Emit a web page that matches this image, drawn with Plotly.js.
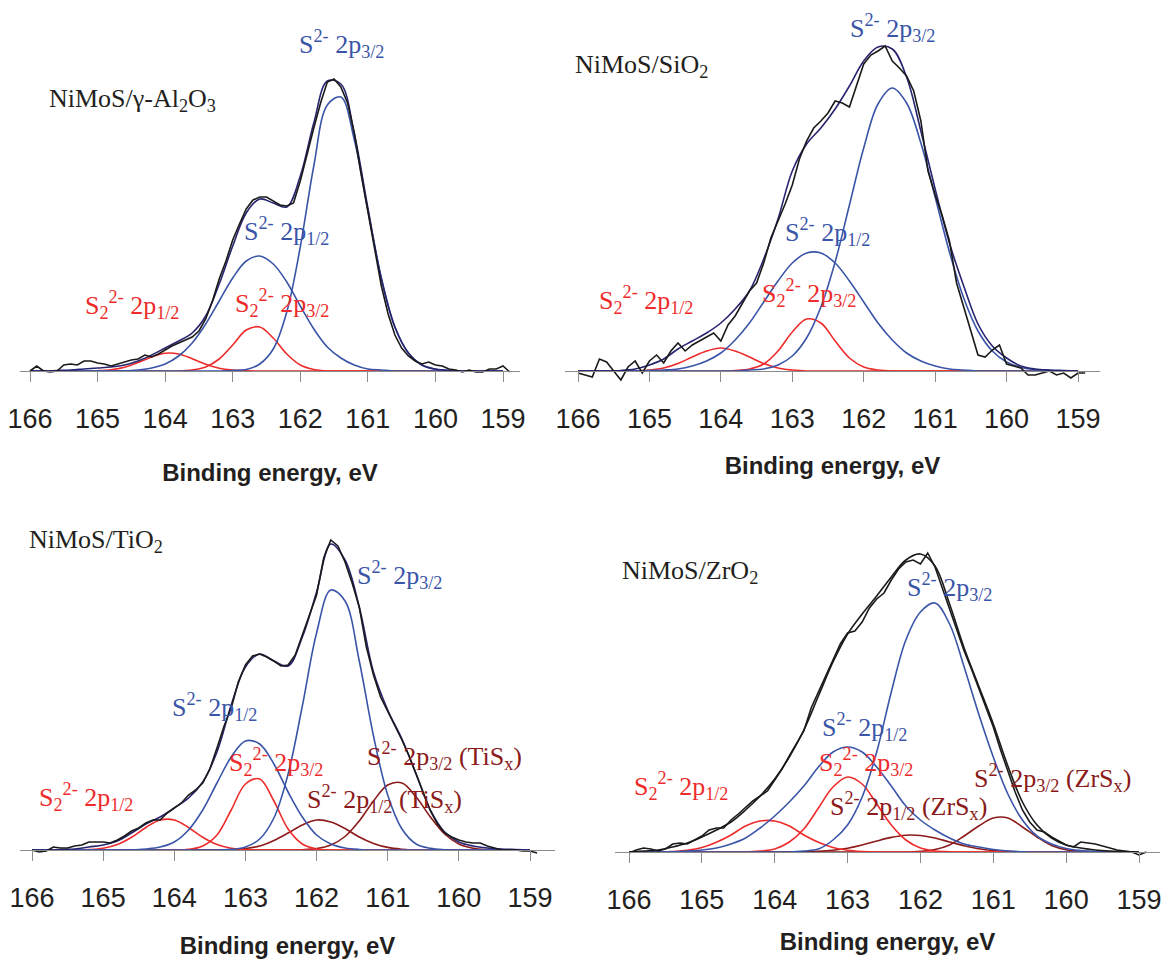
<!DOCTYPE html>
<html><head><meta charset="utf-8">
<script src="https://cdn.plot.ly/plotly-3.0.1.min.js"></script>
<style>html,body{margin:0;padding:0;background:#fff}#chart{width:1171px;height:962px}</style>
</head><body><div id="chart"></div>
<script>
// ---------- energy grids (eV) ----------
const dataEnergy = [166.0,165.9,165.8,165.7,165.6,165.5,165.4,165.3,165.2,165.1,165.0,164.9,164.8,164.7,164.6,164.5,164.4,164.3,164.2,164.1,164.0,163.9,163.8,163.7,163.6,163.5,163.4,163.3,163.2,163.1,163.0,162.9,162.8,162.7,162.6,162.5,162.4,162.3,162.2,162.1,162.0,161.9,161.8,161.7,161.6,161.5,161.4,161.3,161.2,161.1,161.0,160.9,160.8,160.7,160.6,160.5,160.4,160.3,160.2,160.1,160.0,159.9,159.8,159.7,159.6,159.5,159.4,159.3,159.2,159.1,159.0,158.9];
const fitEnergy = [166.0,165.8,165.6,165.4,165.2,165.0,164.8,164.6,164.4,164.2,164.0,163.8,163.6,163.4,163.2,163.0,162.8,162.6,162.4,162.2,162.0,161.8,161.6,161.4,161.2,161.0,160.8,160.6,160.4,160.2,160.0,159.8,159.6,159.4,159.2,159.0];
const tickValues = [166,165,164,163,162,161,160,159];
const tickLabels = ["166","165","164","163","162","161","160","159"];

// ---------- NiMoS/γ-Al2O3 ----------
const alData = [0,5,0,-1,0,6,7,6,10,10,8,7,5,7,9,11,12,16,14,17,21,25,28,31,34,40,52,70,92,110,131,147,162,171,174,174,170,166,165,168,190,218,243,268,289,292,284,268,238,197,160,124,85,57,36,23,15,10,7,9,6,5,2,1,-1,1,-1,-1,2,2,5,-1];
const alEnv = [0,0,0.5,1,2,3,4,6,10,16,23,30,38,55,87,125,158,172,168,164,195,248,290,287,237,163,92,44,18,6,2,0.5,0,0,0,0];
const alS2p32 = [0,0,0,0,0,0,0,0,0,0,0,0,0,0,0,0.5,1.5,7,22,59,124,205,266,274,231,161,93,44,18,6,1.6,0.4,0,0,0,0];
const alS2p12 = [0,0,0,0,0,0,0,0,1,3,7,15,28,47,70,93,110,115,107,89,65,42,24,13,6,2,1,0,0,0,0,0,0,0,0,0];
const alS22p32 = [0,0,0,0,0,0,0,0,0,0,0,0,1,4,12,26,41,44,33,17,6,1.5,0,0,0,0,0,0,0,0,0,0,0,0,0,0];
const alS22p12 = [0,0,0,0,0,0.3,1.3,3.8,8.4,14,17.7,17,12.3,6.8,2.8,0.9,0.2,0,0,0,0,0,0,0,0,0,0,0,0,0,0,0,0,0,0,0];

// ---------- NiMoS/SiO2 ----------
const siData = [-2,-4,-6,12,9,0,-9,4,10,-2,10,16,8,20,28,20,26,30,34,38,30,46,55,68,80,88,108,133,150,167,186,212,230,243,250,258,270,268,264,285,307,316,320,325,310,303,295,280,250,200,176,155,130,88,64,38,16,14,21,26,7,5,3,-4,-4,-2,0,-4,-2,-7,-2,-2];
const siEnv = [0,0,0,0.5,2,6,12,22,30,38,48,62,80,112,152,200,227,243,262,285,310,324,322,294,240,182,128,85,47,25,13,5,2,1,0.5,0];
const siS2p32 = [0,0,0,0,0,0,0,0,0,0,0,0,1,2,6,15,33,64,109,166,223,267,283,268,228,174,119,73,40,20,9,3.5,1.3,0.4,0,0];
const siS2p12 = [0,0,0,0,0,0.5,1,2,5,10,18,31,48,69,90,108,118,118,108,90,69,48,31,18,10,5,2,1,0,0,0,0,0,0,0,0];
const siS22p32 = [0,0,0,0,0,0,0,0,0,0,0,0.5,2,7,20,39,52,48,30,13,4,1,0,0,0,0,0,0,0,0,0,0,0,0,0,0];
const siS22p12 = [0,0,0,0,0.2,1,3,7.5,14,20,23,20,14,7.5,3,1,0,0,0,0,0,0,0,0,0,0,0,0,0,0,0,0,0,0,0,0];

// ---------- NiMoS/TiO2 ----------
const tiData = [0,-2,-1,3,2,2,4,5,8,8,8,7,10,14,19,22,27,30,30,37,42,47,55,60,67,81,102,124,142,168,185,194,196,193,189,184,185,195,215,235,255,292,310,304,288,267,243,203,175,153,139,124,110,94,75,56,39,26,17,13,10,8,7,7,4,2,0,0,0,-1,-1,-3];
const tiEnv = [0,0,0.5,1,3,5,9,17,26,33,42,52,68,98,145,183,196,189,184,213,258,306,290,243,178,140,111,76,40,18,8,4,2,1,0.5,0];
const tiS2p32 = [0,0,0,0,0,0,0,0,0,0,0,0,0,0,0.6,3,11,32,76,144,217,260,249,189,114,55,21,6,1.6,0.3,0,0,0,0,0,0];
const tiS2p12 = [0,0,0,0,0,0,0,0,1,3,8,20,40,67,93,109,106,86,58,33,15,6,2,0.5,0,0,0,0,0,0,0,0,0,0,0,0];
const tiS22p32 = [0,0,0,0,0,0,0,0,0,0,0,0.6,4,15,40,66,71,49,21,6,1,0,0,0,0,0,0,0,0,0,0,0,0,0,0,0];
const tiS22p12 = [0,0,0,0,0.4,1.7,5.4,12.7,22.5,30,30,22.5,12.7,5.4,1.7,0.4,0,0,0,0,0,0,0,0,0,0,0,0,0,0,0,0,0,0,0,0];
const tiTiSp32 = [0,0,0,0,0,0,0,0,0,0,0,0,0,0,0,0,0,0,0,0.3,1.4,5,13.5,29,49,65,67,53,33,16,6,1.8,0.4,0,0,0];
const tiTiSp12 = [0,0,0,0,0,0,0,0,0,0,0,0,0,0,0.4,1.5,4,9.6,17,25,30,28,21.5,13,6.6,2.6,0.8,0,0,0,0,0,0,0,0,0];

// ---------- NiMoS/ZrO2 ----------
const zrData = [-1,2,4,3,1,3,8,9,8,12,16,22,24,24,32,38,45,51,56,61,72,83,96,108,121,144,160,175,192,208,219,221,230,244,253,259,272,283,290,292,288,299,285,264,243,222,201,183,163,145,125,102,80,60,42,30,22,20,15,11,7,5,10,9,8,6,4,2,1,0,-3,0];
const zrEnv = [0,1,2,5,9,15,22,30,42,56,73,95,122,156,190,218,238,256,275,292,298,286,248,204,166,128,86,50,27,14,7,4,2,1,0.5,0];
const zrS2p32 = [0,0,0,0,0,0,0,0,0,0,0,0,1,3,12,27,55,100,160,212,240,249,228,185,138,95,58,32,16,8,3.5,1.5,0.5,0,0,0];
const zrS2p12 = [0,0,0,0.3,1,2,4,8,14,24,36,50,66,85,100,105,100,85,66,46,32,22,14,8,5,2.5,1,0.3,0,0,0,0,0,0,0,0];
const zrS22p32 = [0,0,0,0,0,0,0,0,0,1,3,10,23,44,65,75,68,48,27,12,4,1,0.3,0,0,0,0,0,0,0,0,0,0,0,0,0];
const zrS22p12 = [0,0,0,0.5,1.7,4.4,9.7,17,26,31,31,26,17,9.7,4.4,1.7,0.5,0,0,0,0,0,0,0,0,0,0,0,0,0,0,0,0,0,0,0];
const zrZrSp32 = [0,0,0,0,0,0,0,0,0,0,0,0,0,0,0,0,0,0,0,0,0.7,2.5,7,16,26,34,34,25,15,6.5,2.2,0.6,0,0,0,0];
const zrZrSp12 = [0,0,0,0,0,0,0,0,0,0,0,0,0.3,0.7,1.8,3.8,7,11,14.6,16.8,16.5,14,10,6.3,3.3,1.5,0.6,0,0,0,0,0,0,0,0,0];

// ---------- styling ----------
const W = 1171, H = 962;
const C = {data:'#1a1a1a', env:'#272470', envBlack:'#1a1a1a', blue:'#3a55a8', red:'#ee2b2b', dred:'#8b1a1a'};
const fx = px => px / W;
const fy = py => 1 - py / H;

const panels = [
  {id:'', dom:[20,520], t166:30, t159:503, base:371, top:30, bot:385, standoff:30,
   data:alData, env:alEnv, envColor:C.env,
   comps:[[alS22p12,C.red],[alS22p32,C.red],[alS2p12,C.blue],[alS2p32,C.blue]]},
  {id:'2', dom:[565,1100], t166:578, t159:1078, base:371, top:5, bot:390, standoff:23,
   data:siData, env:siEnv, envColor:C.env,
   comps:[[siS22p12,C.red],[siS22p32,C.red],[siS2p12,C.blue],[siS2p32,C.blue]]},
  {id:'3', dom:[20,555], t166:32, t159:530, base:850, top:510, bot:865, standoff:24,
   data:tiData, env:tiEnv, envColor:C.env,
   comps:[[tiTiSp12,C.dred],[tiTiSp32,C.dred],[tiS22p12,C.red],[tiS22p32,C.red],[tiS2p12,C.blue],[tiS2p32,C.blue]]},
  {id:'4', dom:[615,1160], t166:629, t159:1139, base:852, top:530, bot:866, standoff:18,
   data:zrData, env:zrEnv, envColor:C.envBlack,
   comps:[[zrZrSp12,C.dred],[zrZrSp32,C.dred],[zrS22p12,C.red],[zrS22p32,C.red],[zrS2p12,C.blue],[zrS2p32,C.blue]]}
];

const traces = [];
const layout = {
  width: W, height: H, margin:{l:0,r:0,t:0,b:0},
  paper_bgcolor:'#ffffff', plot_bgcolor:'rgba(0,0,0,0)',
  showlegend:false, annotations:[]
};

panels.forEach(p => {
  const xa = 'x' + p.id, ya = 'y' + p.id;
  const scale = (p.t159 - p.t166) / 7;
  const eL = 166 + (p.t166 - p.dom[0]) / scale;
  const eR = 166 - (p.dom[1] - p.t166) / scale;
  layout['xaxis' + p.id] = {
    domain:[fx(p.dom[0]), fx(p.dom[1])], range:[eL, eR], anchor:'free', position: fy(p.base),
    showline:true, linecolor:'#8c8c8c', linewidth:1, ticks:'outside', ticklen:10, tickwidth:1, tickcolor:'#8c8c8c',
    tickvals:tickValues, ticktext:tickLabels, ticklabelstandoff:14,
    tickfont:{family:'"Liberation Sans", Arial, sans-serif', size:27, color:'#231f20'},
    showgrid:false, zeroline:false, fixedrange:true,
    title:{text:'Binding energy, eV', standoff:p.standoff, font:{family:'"Liberation Sans", Arial, sans-serif', size:24, color:'#231f20', weight:'bold'}}
  };
  layout['yaxis' + p.id] = {
    domain:[fy(p.bot), fy(p.top)], range:[p.base - p.bot, p.base - p.top], anchor:xa,
    visible:false, showgrid:false, zeroline:false, fixedrange:true
  };
  p.comps.forEach(c => traces.push({type:'scatter', mode:'lines', x:fitEnergy, y:c[0], xaxis:xa, yaxis:ya,
    line:{color:c[1], width:1.6, shape:'spline'}, hoverinfo:'skip'}));
  traces.push({type:'scatter', mode:'lines', x:fitEnergy, y:p.env, xaxis:xa, yaxis:ya,
    line:{color:p.envColor, width:1.6, shape:'spline'}, hoverinfo:'skip'});
  traces.push({type:'scatter', mode:'lines', x:dataEnergy, y:p.data, xaxis:xa, yaxis:ya,
    line:{color:C.data, width:1.6}, hoverinfo:'skip'});
});

const S2 = 'S<sup>2-</sup> 2p<sub>3/2</sub>';
const S1 = 'S<sup>2-</sup> 2p<sub>1/2</sub>';
const D2 = 'S<sub>2</sub><sup>2-</sup> 2p<sub>3/2</sub>';
const D1 = 'S<sub>2</sub><sup>2-</sup> 2p<sub>1/2</sub>';
const labels = [
  [47,100,'NiMoS/γ-Al<sub>2</sub>O<sub>3</sub>','#231f20'],
  [297,44,S2,C.blue],[242,231,S1,C.blue],[83,305,D1,C.red],[233,303,D2,C.red],
  [573,66,'NiMoS/SiO<sub>2</sub>','#231f20'],
  [848,28,S2,C.blue],[783,232,S1,C.blue],[597,300,D1,C.red],[760,293,D2,C.red],
  [27,541,'NiMoS/TiO<sub>2</sub>','#231f20'],
  [355,575,S2,C.blue],[170,707,S1,C.blue],[227,762,D2,C.red],[37,797,D1,C.red],
  [365,756,'S<sup>2-</sup> 2p<sub>3/2</sub> (TiS<sub>x</sub>)',C.dred],
  [305,799,'S<sup>2-</sup> 2p<sub>1/2</sub> (TiS<sub>x</sub>)',C.dred],
  [620,572,'NiMoS/ZrO<sub>2</sub>','#231f20'],
  [905,587,S2,C.blue],[820,727,S1,C.blue],[817,762,D2,C.red],[632,786,D1,C.red],
  [828,806,'S<sup>2-</sup> 2p<sub>1/2</sub> (ZrS<sub>x</sub>)',C.dred],
  [972,778,'S<sup>2-</sup> 2p<sub>3/2</sub> (ZrS<sub>x</sub>)',C.dred]
];
labels.forEach(l => layout.annotations.push({
  x:fx(l[0]), y:fy(l[1]), xref:'paper', yref:'paper', xanchor:'left', yanchor:'middle',
  showarrow:false, text:l[2], font:{family:'"Liberation Serif", "Times New Roman", serif', size:26, color:l[3]}
}));

Plotly.newPlot('chart', traces, layout, {displayModeBar:false, staticPlot:true});
</script>
</body></html>
